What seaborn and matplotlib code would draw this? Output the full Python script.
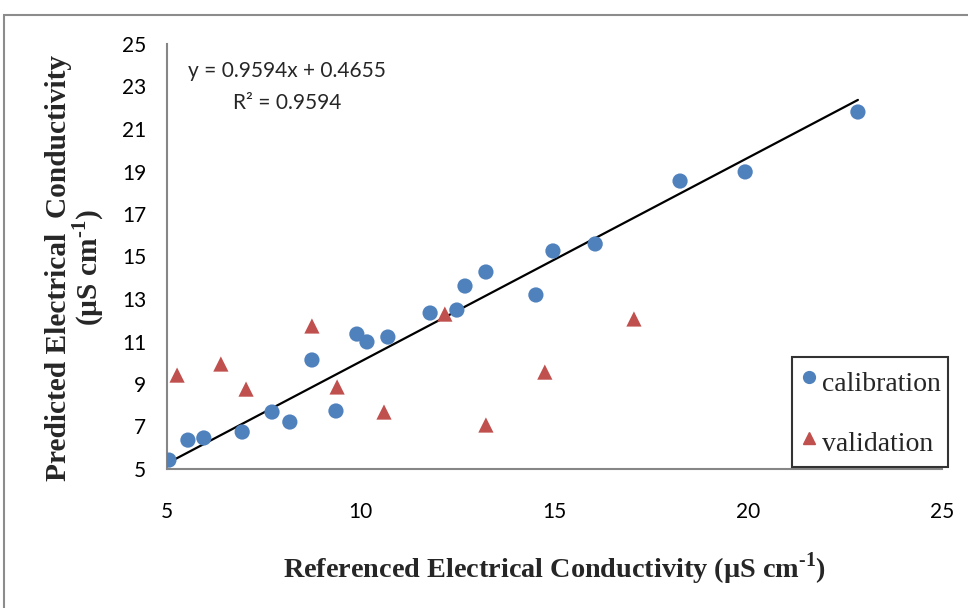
import matplotlib
matplotlib.use("Agg")
import numpy as np
import pandas as pd
import matplotlib.pyplot as plt
from matplotlib.patches import Rectangle
from matplotlib.lines import Line2D
import seaborn as sns

# Calibration and validation sets (referenced vs predicted EC, µS cm-1)
cal_x = [5.05, 5.54, 5.95, 6.94, 7.71, 8.17, 8.74, 9.36, 9.90, 10.16, 10.70,
         11.79, 12.48, 12.69, 13.23, 14.52, 14.96, 16.05, 18.24, 19.92, 22.83]
cal_y = [5.42, 6.36, 6.46, 6.74, 7.68, 7.21, 10.13, 7.73, 11.35, 10.98, 11.21,
         12.34, 12.48, 13.61, 14.27, 13.19, 15.26, 15.59, 18.55, 18.98, 21.80]
val_x = [5.26, 6.39, 7.04, 8.74, 9.39, 10.60, 12.17, 13.23, 14.75, 17.05]
val_y = [9.42, 9.94, 8.76, 11.73, 8.86, 7.68, 12.29, 7.07, 9.56, 12.06]

# Linear trend fitted on the calibration set
slope = 0.9594
intercept = 0.4655
r_squared = 0.9594

x_ticks = [5, 10, 15, 20, 25]
y_ticks = [5, 7, 9, 11, 13, 15, 17, 19, 21, 23, 25]

blue = "#4F81BD"
red = "#C0504D"
grey = "#868686"
serif = ["Liberation Serif", "DejaVu Serif"]

sns.set_theme(style="white")
plt.rcParams["font.family"] = ["Lato", "DejaVu Sans"]
plt.rcParams["mathtext.fontset"] = "custom"
plt.rcParams["mathtext.rm"] = "Liberation Serif"
plt.rcParams["mathtext.bf"] = "Liberation Serif:bold"

df = pd.concat([
    pd.DataFrame({"ref": cal_x, "pred": cal_y, "set": "calibration"}),
    pd.DataFrame({"ref": val_x, "pred": val_y, "set": "validation"}),
], ignore_index=True)

fig = plt.figure(figsize=(9.68, 6.08), dpi=100)
ax = fig.add_axes([167 / 968, 1 - 469 / 608, 775 / 968, 425 / 608])

sns.scatterplot(data=df, x="ref", y="pred", hue="set", style="set",
                markers={"calibration": "o", "validation": "^"},
                palette={"calibration": blue, "validation": red},
                s=120, linewidth=0, ax=ax, legend=False, zorder=3)

# Trend line over the calibration range
line_x = np.array([min(cal_x), max(cal_x)])
sns.lineplot(x=line_x, y=slope * line_x + intercept, color="black",
             linewidth=1.6, ax=ax, zorder=2)

ax.set_xlim(5, 25)
ax.set_ylim(5, 25)
ax.set_xticks(x_ticks)
ax.set_yticks(y_ticks)
ax.tick_params(axis="both", direction="out", length=6, width=1.3,
               color=grey, labelsize=15, labelcolor="black")
ax.tick_params(axis="x", pad=18)
ax.tick_params(axis="y", pad=9)
for side in ("top", "right"):
    ax.spines[side].set_visible(False)
for side in ("left", "bottom"):
    ax.spines[side].set_color(grey)
    ax.spines[side].set_linewidth(1.5)

unit = r"(µS cm$^{\mathbf{‐1}}$)"
ax.set_xlabel("Referenced Electrical Conductivity " + unit,
              family=serif, fontweight="bold", fontsize=20.3)
ax.xaxis.set_label_coords(0.5, -0.191)
ax.set_ylabel("Predicted Electrical  Conductivity\n" + unit,
              family=serif, fontweight="bold", fontsize=21.2,
              linespacing=0.95)
ax.yaxis.set_label_coords(-0.079, 0.474)

ax.text(0.155, 0.899,
        f"y = {slope:.4f}x + {intercept:.4f}\nR² = {r_squared:.4f}",
        transform=ax.transAxes, ha="center", va="center",
        multialignment="center", fontsize=15, linespacing=1.7)

handles = [
    Line2D([], [], linestyle="none", marker="o", color=blue, markersize=8.5),
    Line2D([], [], linestyle="none", marker="^", color=red, markersize=9),
]
leg = ax.legend(handles, ["calibration", "validation"], loc="lower left",
                bbox_to_anchor=(0.8065, 0.0047), frameon=True, fancybox=False,
                prop={"family": serif, "size": 20},
                handlelength=0.72, handletextpad=0.12, handleheight=1.62,
                labelspacing=0.88, borderpad=0.25, borderaxespad=0)
leg.get_frame().set_edgecolor("black")
leg.get_frame().set_linewidth(1.5)

# Chart-area frame
fig.patches.append(Rectangle((4 / 968, -0.1), 1.2, (608 - 15) / 608 + 0.1,
                             transform=fig.transFigure, figure=fig,
                             fill=False, edgecolor="#8c8c8c", linewidth=1.5))

fig.savefig("out.png", dpi=100)
